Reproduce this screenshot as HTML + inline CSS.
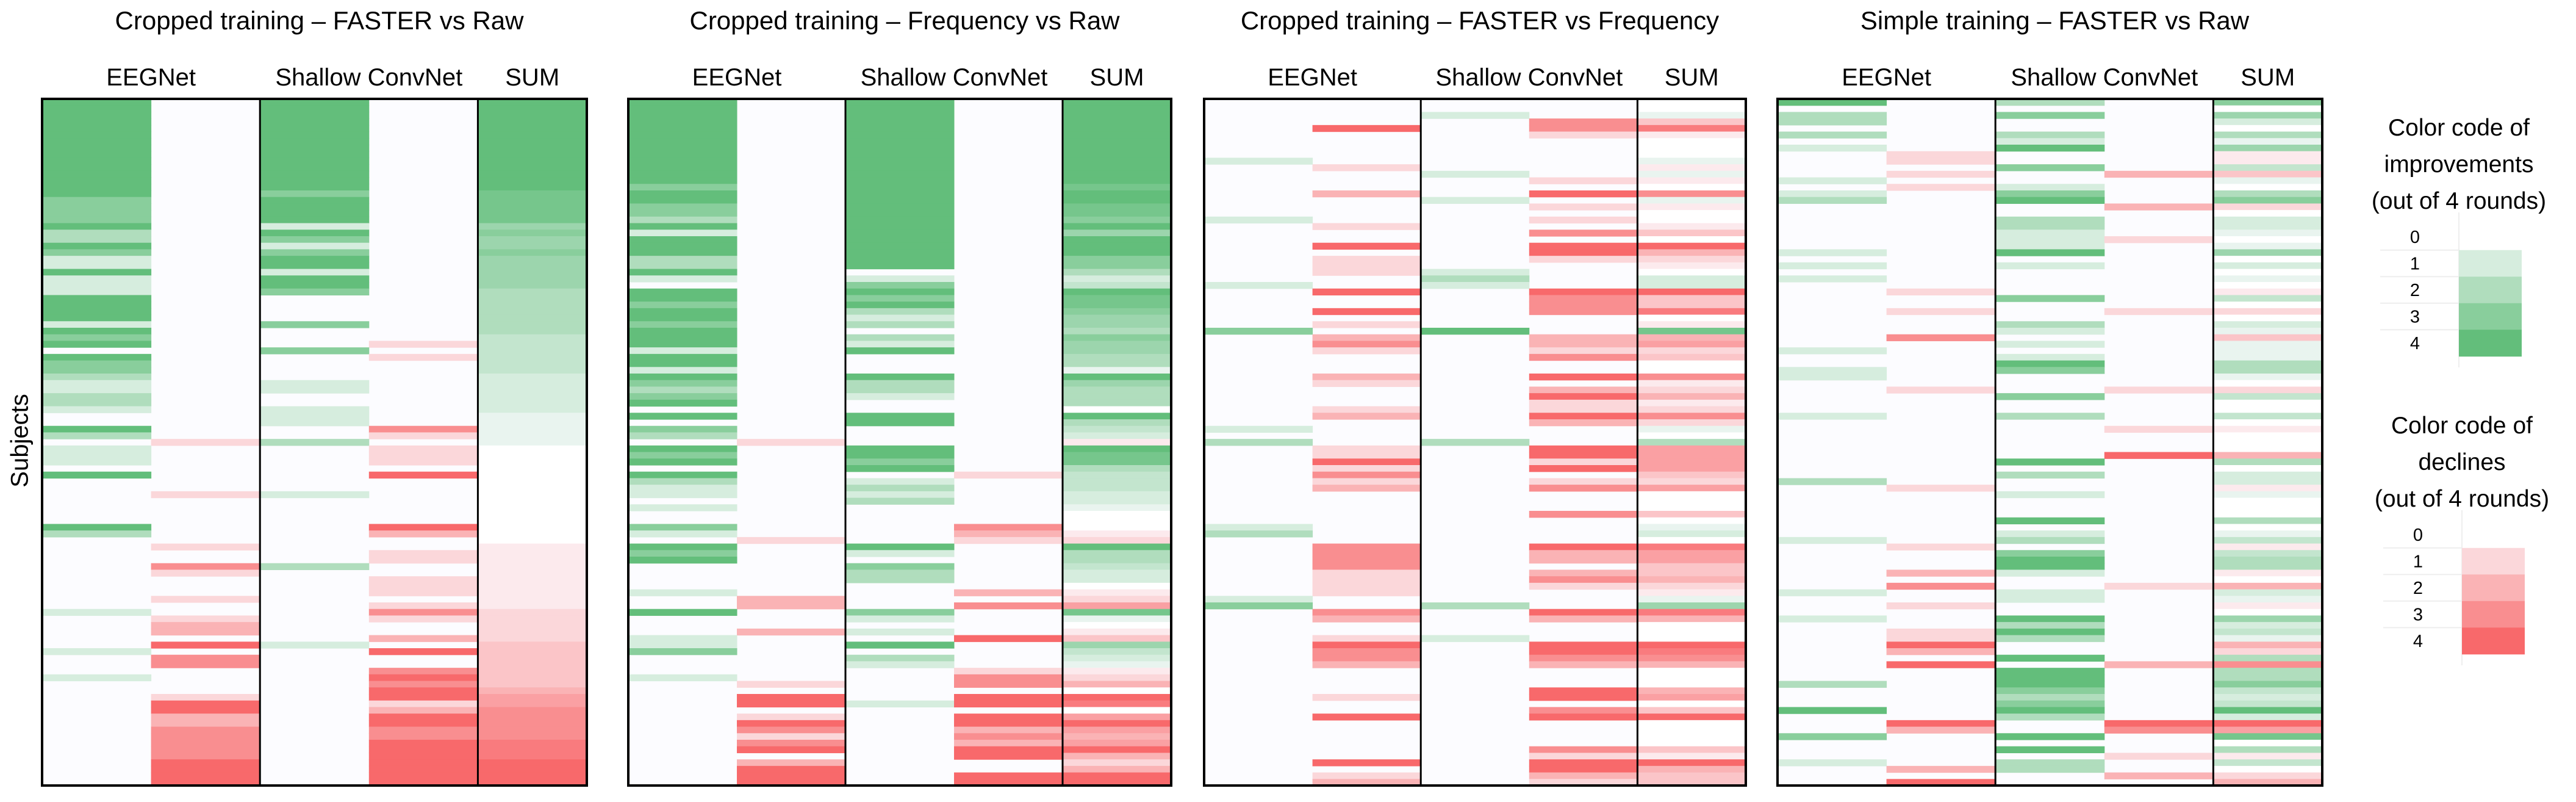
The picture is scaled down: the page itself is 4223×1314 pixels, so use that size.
<!DOCTYPE html>
<html>
<head>
<meta charset="utf-8">
<style>
  html,body{margin:0;padding:0;background:#fff;}
  svg{display:block;}
  text{font-family:"Liberation Sans",sans-serif;fill:#000;}
</style>
</head>
<body>
<svg id="chart" width="4223" height="1314" viewBox="0 0 4223 1314" xmlns="http://www.w3.org/2000/svg">
  <rect x="0" y="0" width="4223" height="1314" fill="#ffffff"/>
  <g id="panels"></g>
  <text x="35" y="722" font-size="40" text-anchor="middle" transform="rotate(-90 35 722)" dominant-baseline="middle">Subjects</text>

  <g>
    <text x="4031" y="222" font-size="39" text-anchor="middle">Color code of</text>
    <text x="4031" y="282" font-size="39" text-anchor="middle">improvements</text>
    <text x="4031" y="342" font-size="39" text-anchor="middle">(out of 4 rounds)</text>
    <g id="legG"></g>
  </g>
  <g>
    <text x="4036" y="710" font-size="39" text-anchor="middle">Color code of</text>
    <text x="4036" y="770" font-size="39" text-anchor="middle">declines</text>
    <text x="4036" y="830" font-size="39" text-anchor="middle">(out of 4 rounds)</text>
    <g id="legR"></g>
  </g>
</svg>
<script>
function toArr(s){ return s.split('').map(Number); }

// ---- data: counts out of 4 rounds, 105 subjects per column ----
const panelTitles = ["Cropped training \u2013 FASTER vs Raw","Cropped training \u2013 Frequency vs Raw","Cropped training \u2013 FASTER vs Frequency","Simple training \u2013 FASTER vs Raw"];
const columnHeaders = ["EEGNet","Shallow ConvNet","SUM"];
const legendLevels = [0,1,2,3,4];

const p1EegImprove  = toArr("4444444444"+"4444433334"+"2243114111"+"4444143404"+"3321122100"+"4201110400"+"0000042000"+"0000000010"+"0000100010"+"0000000000"+"00000");
const p1EegDecline  = toArr("0000000000"+"0000000000"+"0000000000"+"0000000000"+"0000000000"+"0010000000"+"1000000010"+"0310001001"+"2204033000"+"0144223333"+"34444");
const p1ShalImprove = toArr("4444444444"+"4444344441"+"4313441443"+"0000300030"+"0001100111"+"0020000000"+"1000000000"+"0200000000"+"0001000000"+"0000000000"+"00000");
const p1ShalDecline = toArr("0000000000"+"0000000000"+"0000000000"+"0000000101"+"0000000000"+"3101110400"+"0000042001"+"1001110131"+"0020400343"+"4412443344"+"44444");

const p2EegImprove  = toArr("4444444444"+"4443443324"+"1444224104"+"4344344414"+"4143234040"+"3204340421"+"1010031043"+"4000010040"+"0011300010"+"0000000000"+"00000");
const p2EegDecline  = toArr("0000000000"+"0000000000"+"0000000000"+"0000000000"+"0000000000"+"0010000000"+"0000000100"+"0000002200"+"0200000001"+"0440143134"+"02444");
const p2ShalImprove = toArr("4444444444"+"4444444444"+"4444440134"+"3421202140"+"0042210044"+"0004434012"+"1200000041"+"0322000031"+"0104021000"+"0010000000"+"00000");
const p2ShalDecline = toArr("0000000000"+"0000000000"+"0000000000"+"0000000000"+"0000000000"+"0000000100"+"0000032100"+"0000020300"+"0040000133"+"0440442324"+"40044");

const p3EegImprove  = toArr("0000000001"+"0000000010"+"0000000010"+"0000030000"+"0000000000"+"1020000000"+"0000012000"+"0000001300"+"0000000000"+"0000000000"+"00000");
const p3EegDecline  = toArr("0000400000"+"1000200001"+"0040111004"+"0040102310"+"0021000120"+"0001141312"+"0000000033"+"3311110032"+"0014332000"+"0100400000"+"04012");
const p3ShalImprove = toArr("0010000000"+"0100010000"+"0000001210"+"0000040000"+"0000000000"+"0020000000"+"0000000000"+"0000000200"+"0010000000"+"0000000000"+"00000");
const p3ShalDecline = toArr("0003310000"+"0010401010"+"3044100004"+"3330002213"+"0040241142"+"0004414013"+"0003000042"+"2023100042"+"0004432000"+"4403400003"+"14421");

const p4EegImprove  = toArr("4022020100"+"0010120000"+"0001010100"+"0000000010"+"0110000010"+"0000000020"+"0000000100"+"0000010001"+"0000000002"+"0004000300"+"01000");
const p4EegDecline  = toArr("0000000011"+"0101000000"+"0000000001"+"0010003000"+"0000100000"+"0000000001"+"0000000010"+"0020300100"+"0114204000"+"0000042000"+"00204");
const p4ShalImprove = toArr("2030021400"+"3001340022"+"1114010000"+"3000210101"+"4300030020"+"0000040200"+"1000401203"+"4410011004"+"2420040444"+"3234200404"+"02200");
const p4ShalDecline = toArr("0000000000"+"0200002000"+"0100000000"+"0010000000"+"0000100000"+"1000400000"+"0000000000"+"0000100000"+"0000002000"+"0000043000"+"10020");

const panelData = [
  [p1EegImprove,p1EegDecline,p1ShalImprove,p1ShalDecline],
  [p2EegImprove,p2EegDecline,p2ShalImprove,p2ShalDecline],
  [p3EegImprove,p3EegDecline,p3ShalImprove,p3ShalDecline],
  [p4EegImprove,p4EegDecline,p4ShalImprove,p4ShalDecline]
];

// ---- layout ----
const NS = "http://www.w3.org/2000/svg";
const panelX = [[69,962],[1030,1920],[1974,2862],[2914,3807]];
const yTop = 162, yBottom = 1287, nRows = 105;
const rowH = (yBottom - yTop) / nRows;
const GREEN = [99,190,123], RED = [248,105,107], BASE = [252,252,255];

function mix(c, t){
  const r = Math.round(BASE[0] + (c[0]-BASE[0])*t);
  const g = Math.round(BASE[1] + (c[1]-BASE[1])*t);
  const b = Math.round(BASE[2] + (c[2]-BASE[2])*t);
  return "rgb("+r+","+g+","+b+")";
}
function yOf(i){ return yTop + i*rowH; }
function mk(tag, attrs){
  const e = document.createElementNS(NS, tag);
  for (const k in attrs) e.setAttribute(k, attrs[k]);
  return e;
}

const root = document.getElementById("panels");
panelData.forEach(function(cols, p){
  const x0 = panelX[p][0], x1 = panelX[p][1], cw = (x1-x0)/5;
  const g = mk("g", {});
  
  
  root.appendChild(g);

  const title = mk("text", {x:(x0+x1)/2+8, y:48, "font-size":42, "text-anchor":"middle"});
  title.textContent = panelTitles[p];
  
  
  g.appendChild(title);

  const hx = [x0+cw, x0+3*cw, x0+4.5*cw];
  columnHeaders.forEach(function(h, k){
    const t = mk("text", {x:hx[k], y:140, "font-size":40, "text-anchor":"middle"});
    t.textContent = h;
    
    
    g.appendChild(t);
  });

  const bg = mk("rect", {x:x0, y:yTop, width:x1-x0, height:yBottom-yTop, fill:"rgb(252,252,255)"});
  
  
  g.appendChild(bg);

  for (let i = 0; i < nRows; i++){
    for (let c = 0; c < 4; c++){
      const v = cols[c][i];
      if (!v) continue;
      const color = (c % 2 === 0) ? GREEN : RED;
      const r = mk("rect", {x:x0 + c*cw, y:yOf(i), width:cw+0.5, height:rowH+0.6, fill:mix(color, v/4)});
      
      
      g.appendChild(r);
    }
    const s = cols[0][i] - cols[1][i] + cols[2][i] - cols[3][i];
    const sc = s === 0 ? "#ffffff" : mix(s > 0 ? GREEN : RED, Math.min(1, Math.abs(s)/8));
    const sr = mk("rect", {x:x0 + 4*cw, y:yOf(i), width:cw, height:rowH+0.6, fill:sc});
    
    
    g.appendChild(sr);
  }

  [2,4].forEach(function(k){
    const l = mk("line", {x1:x0+k*cw, x2:x0+k*cw, y1:yTop, y2:yBottom, stroke:"#000", "stroke-width":3});
    
    
    g.appendChild(l);
  });
  const frame = mk("rect", {x:x0, y:yTop, width:x1-x0, height:yBottom-yTop, fill:"none", stroke:"#000", "stroke-width":4});
  
  
  g.appendChild(frame);
});

// ---- legends ----
function legend(gid, baseY, xOff, color){
  const g = document.getElementById(gid);
  const numX = 3959 + xOff, sx = 4031 + xOff, sw = 103, step = 43.5;
  const vline = mk("line", {x1:sx, x2:sx, y1:baseY-40, y2:baseY+step*4+40, stroke:"#eeeeee", "stroke-width":2});
  
  
  g.appendChild(vline);
  legendLevels.forEach(function(v, k){
    const cy = baseY + k*step;
    const t = mk("text", {x:numX, y:cy+10, "font-size":29, "text-anchor":"middle"});
    t.textContent = String(v);
    
    
    g.appendChild(t);
    if (k > 0){
      const gl = mk("line", {x1:numX-57, x2:sx, y1:cy-step/2, y2:cy-step/2, stroke:"#eeeeee", "stroke-width":2});
      
      
      g.appendChild(gl);
      const r = mk("rect", {x:sx, y:cy-step/2, width:sw, height:step+0.5, fill:mix(color, v/4)});
      
      
      g.appendChild(r);
    }
  });
}
legend("legG", 388, 0, GREEN);
legend("legR", 876, 5, RED);
</script>
</body>
</html>
